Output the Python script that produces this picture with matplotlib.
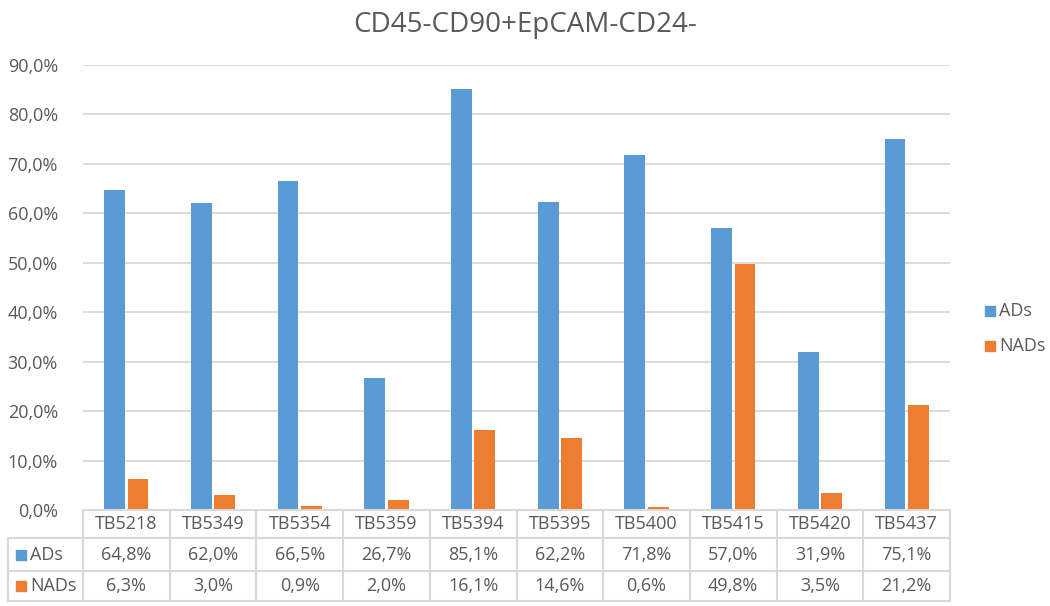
import matplotlib.pyplot as plt
from matplotlib.transforms import blended_transform_factory
from matplotlib.patches import Rectangle
from matplotlib.lines import Line2D

samples = ['TB5218', 'TB5349', 'TB5354', 'TB5359', 'TB5394',
           'TB5395', 'TB5400', 'TB5415', 'TB5420', 'TB5437']
ads = [64.8, 62.0, 66.5, 26.7, 85.1, 62.2, 71.8, 57.0, 31.9, 75.1]
nads = [6.3, 3.0, 0.9, 2.0, 16.1, 14.6, 0.6, 49.8, 3.5, 21.2]
series_names = ['ADs', 'NADs']
yticks = [0, 10, 20, 30, 40, 50, 60, 70, 80, 90]

blue = '#5B9BD5'
orange = '#ED7D31'
grid_c = '#D9D9D9'
text_c = '#595959'
fs = 13

plt.rcParams['font.family'] = ['Open Sans', 'DejaVu Sans']

W, H = 1050, 606
fig = plt.figure(figsize=(W / 100, H / 100), dpi=100)
ax = fig.add_axes([83 / W, 1 - 510 / H, (950 - 83) / W, (510 - 65) / H])

x = list(range(len(samples)))
bw = 0.24
ax.bar([i - 0.135 for i in x], ads, width=bw, color=blue, zorder=3)
ax.bar([i + 0.135 for i in x], nads, width=bw, color=orange, zorder=3)

ax.set_xlim(-0.5, len(samples) - 0.5)
ax.set_ylim(0, 90)
ax.set_yticks(yticks)
ax.set_yticklabels(['{:.1f}%'.format(v).replace('.', ',') for v in yticks],
                   color=text_c, fontsize=fs)
ax.tick_params(axis='y', length=0, pad=18)
ax.set_xticks([])
ax.grid(axis='y', color=grid_c, linewidth=1.3, zorder=0)
for s in ax.spines.values():
    s.set_visible(False)

fig.text(0.5, 1 - 25 / H, 'CD45-CD90+EpCAM-CD24-', ha='center', va='center',
         fontsize=20, color=text_c)

# data table below the axis
tr = blended_transform_factory(ax.transData, fig.transFigure)
def fy(py):
    return 1 - py / H

left_x = -0.5 - (83 - 8) / ((950 - 83) / len(samples))
rows_y = [510, 538, 571, 601]
lw = 1.5
# horizontal lines
fig.add_artist(Line2D([-0.5, len(samples) - 0.5], [fy(510), fy(510)],
                      transform=tr, color=grid_c, lw=lw))
for py in rows_y[1:]:
    fig.add_artist(Line2D([left_x, len(samples) - 0.5], [fy(py), fy(py)],
                          transform=tr, color=grid_c, lw=lw))
# vertical lines
fig.add_artist(Line2D([left_x, left_x], [fy(538), fy(601)],
                      transform=tr, color=grid_c, lw=lw))
for i in range(len(samples) + 1):
    xv = i - 0.5
    fig.add_artist(Line2D([xv, xv], [fy(510), fy(601)],
                          transform=tr, color=grid_c, lw=lw))

for i, name in enumerate(samples):
    fig.text(i, fy(524), name, transform=tr, ha='center', va='center',
             fontsize=fs, color=text_c)
    fig.text(i, fy(555), '{:.1f}%'.format(ads[i]).replace('.', ','),
             transform=tr, ha='center', va='center', fontsize=fs, color=text_c)
    fig.text(i, fy(586), '{:.1f}%'.format(nads[i]).replace('.', ','),
             transform=tr, ha='center', va='center', fontsize=fs, color=text_c)

# row headers with colour keys
for py, name, col in [(555, series_names[0], blue), (586, series_names[1], orange)]:
    fig.add_artist(Rectangle((16 / W, fy(py) - 5 / H), 10 / W, 10 / H,
                             transform=fig.transFigure, color=col))
    fig.text(30 / W, fy(py), name, ha='left', va='center',
             fontsize=fs, color=text_c)

# legend
for py, name, col in [(311, series_names[0], blue), (346, series_names[1], orange)]:
    fig.add_artist(Rectangle((985 / W, fy(py) - 5 / H), 10 / W, 10 / H,
                             transform=fig.transFigure, color=col))
    fig.text(999 / W, fy(py), name, ha='left', va='center',
             fontsize=fs, color=text_c)

fig.savefig('out.png', dpi=100, facecolor='white')
